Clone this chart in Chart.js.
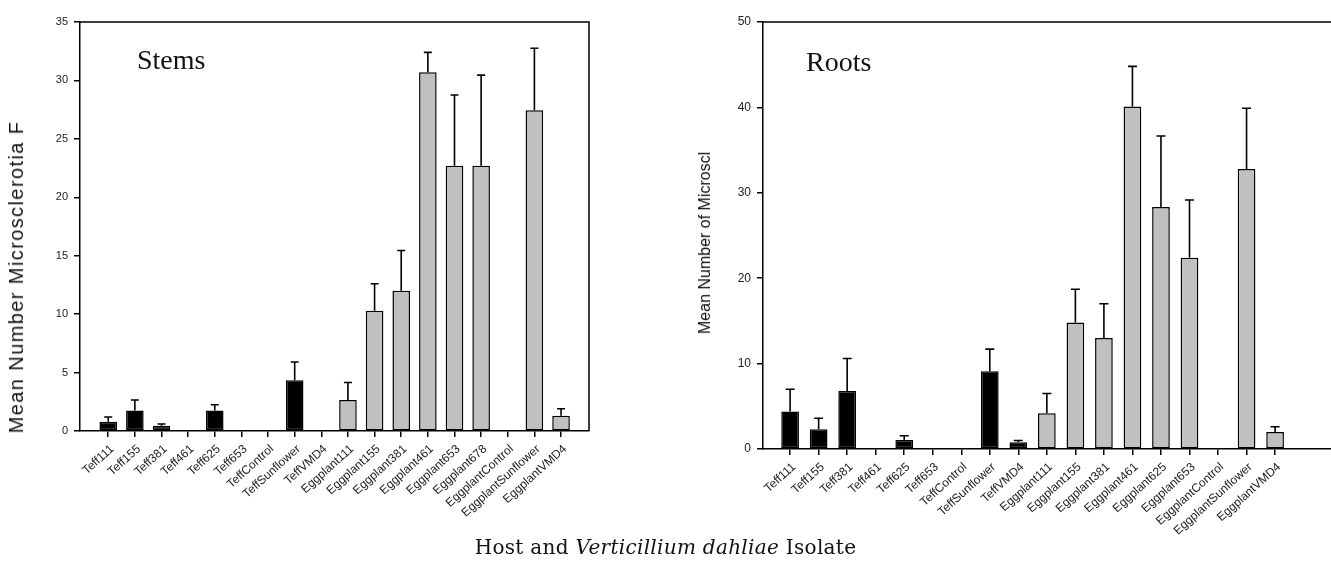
<!DOCTYPE html>
<html><head><meta charset="utf-8">
<script src="https://cdn.jsdelivr.net/npm/chart.js@4.4.1/dist/chart.umd.min.js"></script>
<style>
html,body{margin:0;padding:0;background:#fff;width:1331px;height:584px;overflow:hidden;}
body{position:relative;font-family:"Liberation Sans",Arial,sans-serif;}
canvas{position:absolute;top:0;}
#cl{left:0;}
#cr{left:650px;}
.ytitle{position:absolute;transform:translate(-50%,-50%) rotate(-90deg);white-space:nowrap;color:#111;font-family:"Liberation Sans",Arial,sans-serif;line-height:1;}
.panel{position:absolute;font-family:"Liberation Serif","Times New Roman",serif;color:#111;font-size:28px;line-height:28px;}
.cap{position:absolute;left:0;width:1331px;text-align:center;top:535px;font-family:"DejaVu Serif",serif;font-size:20px;letter-spacing:0.3px;color:#111;}
</style></head>
<body>
<canvas id="cl" width="600" height="560"></canvas>
<canvas id="cr" width="681" height="560"></canvas>
<div class="ytitle" style="left:16px;top:277px;font-size:20px;letter-spacing:1.4px;">Mean Number Microsclerotia F</div>
<div class="ytitle" style="left:705px;top:243px;font-size:16px;">Mean Number of Microscl</div>
<div class="panel" style="left:137px;top:46px;">Stems</div>
<div class="panel" style="left:806px;top:48px;">Roots</div>
<div class="cap">Host and <i>Verticillium dahliae</i> Isolate</div>
<script>
// ---- data ----
const stemCats = ["Teff111","Teff155","Teff381","Teff461","Teff625","Teff653","TeffControl","TeffSunflower","TeffVMD4",
  "Eggplant111","Eggplant155","Eggplant381","Eggplant461","Eggplant653","Eggplant678","EggplantControl","EggplantSunflower","EggplantVMD4"];
const stemMeans = [0.8, 1.75, 0.45, 0, 1.75, 0, 0, 4.35, 0, 2.65, 10.3, 12.0, 30.7, 22.7, 22.7, 0, 27.45, 1.3];
const stemErrs  = [0.4, 0.9, 0.15, 0, 0.5, 0, 0, 1.55, 0, 1.5, 2.3, 3.45, 1.7, 6.05, 7.75, 0, 5.3, 0.6];

const rootCats = ["Teff111","Teff155","Teff381","Teff461","Teff625","Teff653","TeffControl","TeffSunflower","TeffVMD4",
  "Eggplant111","Eggplant155","Eggplant381","Eggplant461","Eggplant625","Eggplant653","EggplantControl","EggplantSunflower","EggplantVMD4"];
const rootMeans = [4.4, 2.3, 6.8, 0, 1.05, 0, 0, 9.1, 0.8, 4.2, 14.8, 13.0, 40.1, 28.35, 22.4, 0, 32.8, 2.0];
const rootErrs  = [2.6, 1.3, 3.8, 0, 0.5, 0, 0, 2.6, 0.2, 2.3, 3.9, 4.0, 4.7, 8.3, 6.75, 0, 7.1, 0.6];

const stemTicks = [0,5,10,15,20,25,30,35];
const rootTicks = [0,10,20,30,40,50];

// ---- helpers ----
function series(cats, means, errs, prefix){
  const out = [];
  cats.forEach((c,i)=>{ if(c.startsWith(prefix)) out.push({x:i, y:means[i], err:errs[i]}); });
  return out;
}
const errorBars = {
  id:'errorBars',
  afterDatasetsDraw(chart, args, opts){
    const ctx = chart.ctx, ys = chart.scales.y;
    chart.data.datasets.forEach((ds, di)=>{
      const meta = chart.getDatasetMeta(di);
      meta.data.forEach((bar, i)=>{
        const p = ds.data[i];
        if(!p.err) return;
        const top = ys.getPixelForValue(p.y + p.err);
        ctx.save();
        ctx.strokeStyle = '#000'; ctx.lineWidth = 1.6;
        ctx.beginPath();
        ctx.moveTo(bar.x, bar.y); ctx.lineTo(bar.x, top);
        ctx.moveTo(bar.x - opts.cap, top); ctx.lineTo(bar.x + opts.cap, top);
        ctx.stroke();
        ctx.restore();
      });
    });
  }
};
const frame = {
  id:'frame',
  afterDraw(chart, args, opts){
    const {ctx, chartArea:c} = chart;
    ctx.save(); ctx.strokeStyle = '#000'; ctx.lineWidth = 1.5;
    ctx.beginPath(); ctx.moveTo(c.left, c.top); ctx.lineTo(c.right, c.top);
    if(opts.right) ctx.lineTo(c.right, c.bottom);
    ctx.stroke(); ctx.restore();
  }
};

function makeChart(id, cats, means, errs, ticksArr, cfg){
  const zeroless = (ctx)=> (ctx.raw && ctx.raw.y === 0) ? 0 : 1.5;
  return new Chart(document.getElementById(id), {
    type:'bar',
    data:{ datasets:[
      {label:'Teff', data:series(cats, means, errs, 'Teff'), backgroundColor:'#000', borderColor:'#000', borderWidth:zeroless, borderSkipped:false},
      {label:'Eggplant', data:series(cats, means, errs, 'Eggplant'), backgroundColor:'#c0c0c0', borderColor:'#000', borderWidth:zeroless, borderSkipped:false}
    ]},
    options:{
      responsive:false, animation:false,
      layout:{padding:{top:22, right:cfg.padRight, left:0, bottom:0}},
      datasets:{bar:{grouped:false, categoryPercentage:1, barPercentage:cfg.barPct}},
      plugins:{legend:{display:false}, tooltip:{enabled:false}, errorBars:{cap:cfg.cap}, frame:{right:cfg.frameRight}},
      scales:{
        x:{
          type:'linear', min:cfg.xmin, max:cfg.xmax, offset:false,
          afterBuildTicks(scale){ scale.ticks = cats.map((c,i)=>({value:i})); },
          afterFit(scale){ scale.height = cfg.xh; },
          ticks:{autoSkip:false, minRotation:cfg.rot, maxRotation:cfg.rot, padding:5, labelOffset:4, color:'#222',
            font:{family:'"Liberation Sans", Arial, sans-serif', size:12},
            callback:(v)=> cats[v] !== undefined ? cats[v] : ''},
          grid:{offset:false, drawOnChartArea:false, drawTicks:true, tickLength:6, color:'#000', lineWidth:1.5},
          border:{display:true, color:'#000', width:1.5}
        },
        y:{
          min:0, max:ticksArr[ticksArr.length-1],
          afterBuildTicks(scale){ scale.ticks = ticksArr.map(v=>({value:v})); },
          afterFit(scale){ scale.width = cfg.yw; },
          ticks:{padding:6, color:'#222', font:{family:'"Liberation Sans", Arial, sans-serif', size:cfg.yfont}},
          grid:{drawOnChartArea:false, drawTicks:true, tickLength:6, color:'#000', lineWidth:1.5},
          border:{display:true, color:'#000', width:1.5}
        }
      }
    },
    plugins:[errorBars, frame]
  });
}

makeChart('cl', stemCats, stemMeans, stemErrs, stemTicks,
  {xmin:-1.06, xmax:18.05, xh:129, yw:80, padRight:11, barPct:0.66, cap:4, frameRight:true, yfont:11, rot:42});
makeChart('cr', rootCats, rootMeans, rootErrs, rootTicks,
  {xmin:-0.95, xmax:18.96, xh:111, yw:113, padRight:0, barPct:0.62, cap:4.5, frameRight:false, yfont:12, rot:42});
</script>
</body></html>
